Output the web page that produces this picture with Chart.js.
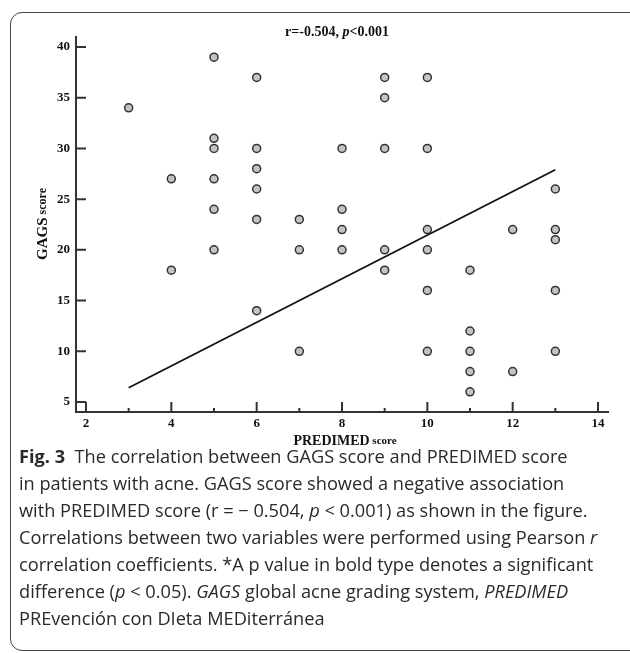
<!DOCTYPE html>
<html>
<head>
<meta charset="utf-8">
<script src="https://cdn.jsdelivr.net/npm/chart.js@4.4.1/dist/chart.umd.min.js"></script>
<style>
  body { margin: 0; background: #fff; width: 630px; height: 653px; overflow: hidden; position: relative; }
  .frame { position: absolute; left: 10px; top: 12px; width: 630px; height: 637px; border: 1px solid #444; border-radius: 12px; }
  .chart-wrap { position: absolute; left: 0; top: 0; width: 630px; height: 460px; }
  .caption { position: absolute; left: 19px; top: 443px; font-family: 'Open Sans', sans-serif; font-size: 18.2px; line-height: 27px; color: #2a2a2a; white-space: nowrap; }
  .caption b { font-weight: 700; }
</style>
</head>
<body>
<div class="frame"></div>
<div class="chart-wrap"><canvas id="scatter" width="630" height="460"></canvas></div>
<div class="caption">
  <b>Fig. 3</b>&nbsp; The correlation between GAGS score and PREDIMED score<br>
  in patients with acne. GAGS score showed a negative association<br>
  with PREDIMED score (r = − 0.504, <i>p</i> &lt; 0.001) as shown in the figure.<br>
  Correlations between two variables were performed using Pearson <i>r</i><br>
  correlation coefficients. *A p value in bold type denotes a significant<br>
  difference (<i>p</i> &lt; 0.05). <i>GAGS</i> global acne grading system, <i>PREDIMED</i><br>
  PREvención con DIeta MEDiterránea
</div>
<script>
// data
const predimed = [3, 4, 4, 5, 5, 5, 5, 5, 5, 6, 6, 6, 6, 6, 6, 7, 7, 7, 8, 8, 8, 8,
  9, 9, 9, 9, 9, 10, 10, 10, 10, 10, 10, 11, 11, 11, 11, 11, 12, 12, 13, 13, 13, 13, 13];
const gags = [34, 27, 18, 39, 31, 30, 27, 24, 20, 37, 30, 28, 26, 23, 14, 23, 20, 10, 30, 24, 22, 20,
  37, 35, 30, 20, 18, 37, 30, 22, 20, 16, 10, 18, 12, 10, 8, 6, 22, 8, 26, 22, 21, 16, 10];
const fitX = [3, 13];
const fitY = [6.4, 27.9];
const xTicks = [2, 4, 6, 8, 10, 12, 14];
const xMinor = [3, 5, 7, 9, 11, 13];
const yTicks = [5, 10, 15, 20, 25, 30, 35, 40];

const serif = 'Liberation Serif';

const axisDecor = {
  id: 'axisDecor',
  afterDraw(chart) {
    const ctx = chart.ctx;
    const area = chart.chartArea;
    const x = chart.scales.x;
    const y = chart.scales.y;
    ctx.save();
    ctx.strokeStyle = '#333';
    ctx.lineWidth = 2;
    ctx.beginPath();
    xTicks.forEach((v) => {
      const px = x.getPixelForValue(v);
      ctx.moveTo(px, area.bottom);
      ctx.lineTo(px, area.bottom - 10);
    });
    xMinor.forEach((v) => {
      const px = x.getPixelForValue(v);
      ctx.moveTo(px, area.bottom);
      ctx.lineTo(px, area.bottom - 4);
    });
    yTicks.forEach((v) => {
      const py = y.getPixelForValue(v);
      ctx.moveTo(area.left, py);
      ctx.lineTo(area.left + 10, py);
    });
    ctx.stroke();

    ctx.fillStyle = '#111';
    ctx.textBaseline = 'middle';
    // title with italic p
    const parts = [
      ['r=-0.504, ', 'bold 14px ' + serif],
      ['p', 'italic bold 14px ' + serif],
      ['<0.001', 'bold 14px ' + serif],
    ];
    let total = 0;
    parts.forEach((p) => { ctx.font = p[1]; total += ctx.measureText(p[0]).width; });
    let cx = 337 - total / 2;
    ctx.textAlign = 'left';
    parts.forEach((p) => { ctx.font = p[1]; ctx.fillText(p[0], cx, 32); cx += ctx.measureText(p[0]).width; });

    // x axis title
    const xparts = [['PREDIMED', 'bold 14px ' + serif], [' score', 'bold 11px ' + serif]];
    total = 0;
    xparts.forEach((p) => { ctx.font = p[1]; total += ctx.measureText(p[0]).width; });
    cx = 345 - total / 2;
    xparts.forEach((p) => { ctx.font = p[1]; ctx.fillText(p[0], cx, 441); cx += ctx.measureText(p[0]).width; });

    // y axis title
    ctx.translate(43, 224);
    ctx.rotate(-Math.PI / 2);
    const yparts = [['GAGS', 'bold 15px ' + serif], [' score', 'bold 12px ' + serif]];
    total = 0;
    yparts.forEach((p) => { ctx.font = p[1]; total += ctx.measureText(p[0]).width; });
    cx = -total / 2;
    yparts.forEach((p) => { ctx.font = p[1]; ctx.fillText(p[0], cx, 0); cx += ctx.measureText(p[0]).width; });
    ctx.restore();
  },
};

const ctx = document.getElementById('scatter').getContext('2d');
new Chart(ctx, {
  type: 'scatter',
  data: {
    datasets: [
      {
        label: 'patients',
        data: predimed.map((v, i) => ({ x: v, y: gags[i] })),
        pointRadius: 4,
        pointBackgroundColor: '#c4c4c4',
        pointBorderColor: '#333',
        pointBorderWidth: 1.5,
      },
      {
        type: 'line',
        label: 'fit',
        data: fitX.map((v, i) => ({ x: v, y: fitY[i] })),
        borderColor: '#111',
        borderWidth: 1.8,
        pointRadius: 0,
        fill: false,
      },
    ],
  },
  options: {
    responsive: false,
    animation: false,
    layout: { padding: { top: 37, right: 22, left: 0, bottom: 0 } },
    plugins: { legend: { display: false }, tooltip: { enabled: false }, title: { display: false } },
    scales: {
      x: {
        type: 'linear',
        min: 1.766,
        max: 14.234,
        afterBuildTicks: (s) => { s.ticks = xTicks.map((v) => ({ value: v })); },
        afterFit: (s) => { s.height = 48; },
        grid: { drawOnChartArea: false, drawTicks: false },
        border: { color: '#333', width: 2 },
        ticks: { font: { family: serif, weight: 'bold', size: 13 }, color: '#111', padding: 4, autoSkip: false, maxRotation: 0 },
      },
      y: {
        type: 'linear',
        min: 4.014,
        max: 40.986,
        afterBuildTicks: (s) => { s.ticks = yTicks.map((v) => ({ value: v })); },
        afterFit: (s) => { s.width = 76; },
        grid: { drawOnChartArea: false, drawTicks: false },
        border: { color: '#333', width: 2 },
        ticks: { font: { family: serif, weight: 'bold', size: 13 }, color: '#111', padding: 6 },
      },
    },
  },
  plugins: [axisDecor],
});
</script>
</body>
</html>
